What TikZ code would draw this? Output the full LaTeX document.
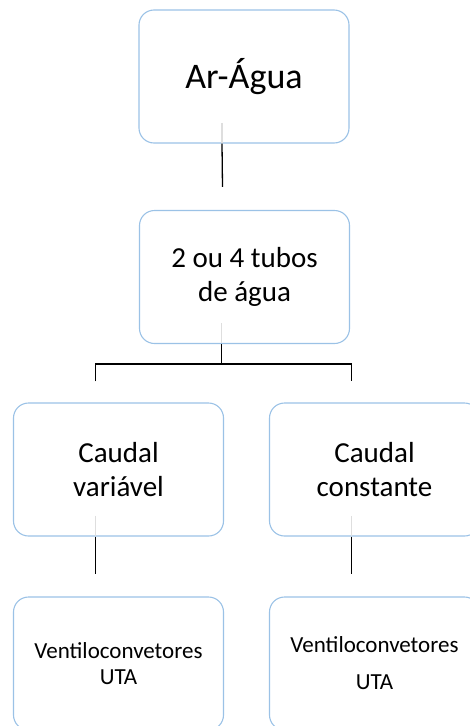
\documentclass[tikz,border=0pt]{standalone}
\usepackage{fontspec}
\setmainfont{Carlito}

\definecolor{boxline}{RGB}{155,194,230}
\definecolor{faint}{RGB}{222,222,222}
\tikzset{
  box/.style={draw=boxline, line width=1.1pt, rounded corners=15pt,
    minimum width=210pt, minimum height=133pt, inner sep=0pt, align=center},
  link/.style={draw=black, line width=1.3pt},
  stub/.style={draw=faint, line width=1.3pt},
  big/.style={font=\fontsize{36}{40}\selectfont},
  mid/.style={font=\fontsize{29}{34}\selectfont},
  small/.style={font=\fontsize{23}{26}\selectfont},
}

\begin{document}
\begin{tikzpicture}[x=1pt,y=-1pt]
\useasboundingbox (0,0) rectangle (470,726);
% boxes
\node[box,big] (ar) at (244,76.5) {Ar-Água};
\node[box,mid] (tubos) at (244.5,277) {2 ou 4 tubos\\de água};
\node[box,mid] (var) at (118.5,469.5) {Caudal\\variável};
\node[box,mid] (const) at (374.5,469.5) {Caudal\\constante};
\node[box,small] (uvar) at (118.5,663.5) {Ventiloconvetores\\UTA};
\node[box,small] (uconst) at (374.5,663.5) {Ventiloconvetores\\[11pt]UTA};
\coordinate (bus) at ([xshift=-23pt,yshift=-20pt]tubos.south);
% connectors
\draw[stub] ([xshift=-22pt,yshift=21pt]ar.south) -- ([xshift=-22pt,yshift=0.6pt]ar.south);
\draw[link] ([xshift=-22pt]ar.south) -- ([xshift=-22pt,yshift=23pt]tubos.north);
\draw[stub] ([xshift=-23pt,yshift=21pt]tubos.south) -- ([xshift=-23pt,yshift=0.6pt]tubos.south);
\draw[link] ([xshift=-23pt]tubos.south) -- (bus);
\draw[link] ([xshift=-23pt,yshift=21pt]var.north) |- (bus) -| ([xshift=-23pt,yshift=21pt]const.north);
\draw[stub] ([xshift=-23pt,yshift=21pt]var.south) -- ([xshift=-23pt,yshift=0.6pt]var.south);
\draw[link] ([xshift=-23pt]var.south) -- ([xshift=-23pt,yshift=22pt]uvar.north);
\draw[stub] ([xshift=-23pt,yshift=21pt]const.south) -- ([xshift=-23pt,yshift=0.6pt]const.south);
\draw[link] ([xshift=-23pt]const.south) -- ([xshift=-23pt,yshift=22pt]uconst.north);
\end{tikzpicture}
\end{document}
